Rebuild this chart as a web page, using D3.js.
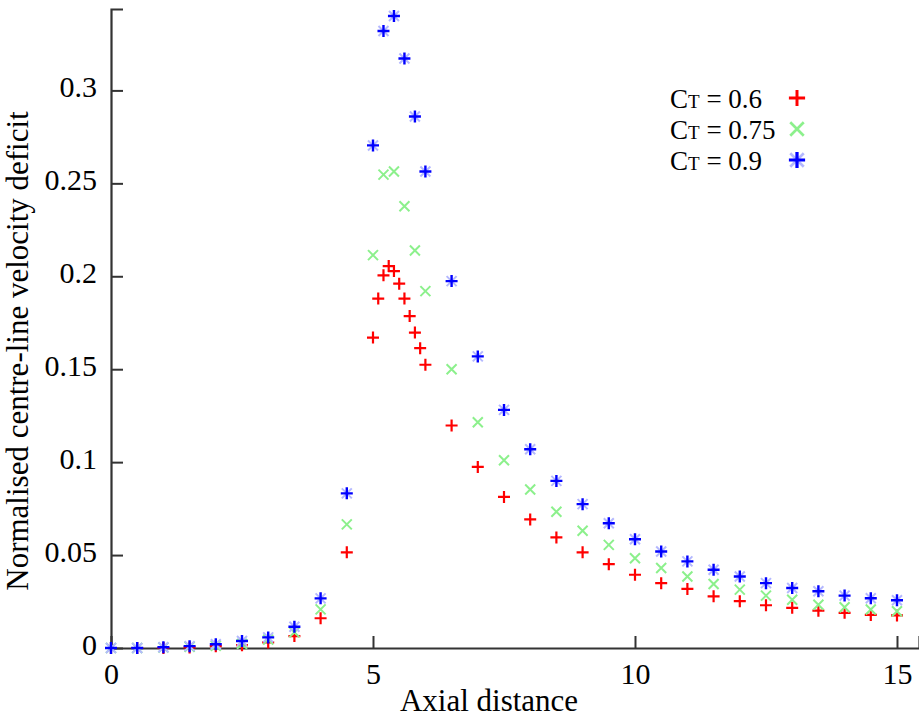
<!DOCTYPE html>
<html>
<head>
<meta charset="utf-8">
<script src="https://cdn.jsdelivr.net/npm/d3@7"></script>
<style>
  html, body { margin: 0; padding: 0; background: #fff; }
  svg { display: block; }
  svg text { font-family: "Liberation Serif", "Times New Roman", Times, "DejaVu Serif", serif !important; }
</style>
</head>
<body>
<div id="chart"></div>
<script>
// Осевые расстояния (общие для всех серий)
const xValues = [0, 0.5, 1, 1.5, 2, 2.5, 3, 3.5, 4, 4.5,
    5, 5.1, 5.2, 5.3, 5.4, 5.5, 5.6, 5.7, 5.8, 5.9, 6,
    6.5, 7, 7.5, 8, 8.5, 9, 9.5, 10, 10.5, 11, 11.5, 12, 12.5, 13, 13.5, 14, 14.5, 15];
const xValuesCoarse = [0, 0.5, 1, 1.5, 2, 2.5, 3, 3.5, 4, 4.5,
    5, 5.2, 5.4, 5.6, 5.8, 6,
    6.5, 7, 7.5, 8, 8.5, 9, 9.5, 10, 10.5, 11, 11.5, 12, 12.5, 13, 13.5, 14, 14.5, 15];

// CT = 0.6
const deficit06 = [0, 0, 0, 0.0003, 0.001, 0.0015, 0.003, 0.0064, 0.016, 0.0515,
    0.167, 0.188, 0.2005, 0.2055, 0.2028, 0.196, 0.188, 0.1786, 0.1697, 0.1613, 0.1524,
    0.1197, 0.0974, 0.0813, 0.0692, 0.0595, 0.0515, 0.0451, 0.0394, 0.0349, 0.0318,
    0.0278, 0.0252, 0.023, 0.0216, 0.0201, 0.0189, 0.0178, 0.0175];
// CT = 0.75
const deficit075 = [0, 0, 0.0003, 0.0006, 0.0012, 0.0022, 0.0045, 0.0085, 0.0208, 0.0665,
    0.2114, 0.2547, 0.2564, 0.2377, 0.2139, 0.192,
    0.150, 0.1215, 0.101, 0.0853, 0.0733, 0.0631, 0.0555, 0.0483, 0.043, 0.0385,
    0.0344, 0.0314, 0.0282, 0.026, 0.0233, 0.0219, 0.0207, 0.0198];
// CT = 0.9
const deficit09 = [0, 0, 0.0004, 0.001, 0.002, 0.0038, 0.0057, 0.0114, 0.0267, 0.0832,
    0.2704, 0.332, 0.340, 0.3172, 0.286, 0.2564,
    0.1974, 0.1569, 0.1281, 0.1069, 0.0899, 0.0774, 0.0671, 0.0585, 0.0519, 0.0466,
    0.0421, 0.0385, 0.0349, 0.0323, 0.0305, 0.0282, 0.0268, 0.0257];

const xTicks = [0, 5, 10, 15];
const yTicks = [0, 0.05, 0.1, 0.15, 0.2, 0.25, 0.3];
const legendValues = ['0.6', '0.75', '0.9'];

const width = 919, height = 718;
const margin = { top: 9, right: 0, bottom: 70, left: 111 };
const serif = '"Liberation Serif", "Times New Roman", Times, "DejaVu Serif", serif';

const svg = d3.select('#chart').append('svg')
    .attr('width', width)
    .attr('height', height)
    .attr('font-family', serif);

// Шкалы
const x = d3.scaleLinear().domain([0, 15.42]).range([margin.left, width - margin.right]);
const y = d3.scaleLinear().domain([0, 0.3438]).range([height - margin.bottom, margin.top]);

const axisColor = '#333';

// Ось X
const xAxis = svg.append('g')
    .attr('transform', `translate(0,${y(0)})`)
    .call(d3.axisBottom(x).tickValues(xTicks).tickSize(-12).tickPadding(15).tickFormat(d3.format('d')))
    .attr('font-family', serif);
xAxis.select('.domain').attr('stroke', axisColor).attr('stroke-width', 2.2);
xAxis.selectAll('.tick line').attr('stroke', axisColor).attr('stroke-width', 2)
    .filter(d => d === 0).remove();
xAxis.selectAll('.tick text').attr('font-size', 30).attr('fill', '#000')
    .style('font-family', serif);

// Ось Y
const yAxis = svg.append('g')
    .attr('transform', `translate(${x(0)},0)`)
    .call(d3.axisLeft(y).tickValues(yTicks).tickSize(-12).tickPadding(14).tickFormat(d => d === 0 ? '0' : String(d)))
    .attr('font-family', serif);
yAxis.select('.domain').attr('stroke', axisColor).attr('stroke-width', 2.2);
yAxis.selectAll('.tick line').attr('stroke', axisColor).attr('stroke-width', 2)
    .filter(d => d === 0).remove();
yAxis.selectAll('.tick text').attr('font-size', 30).attr('fill', '#000')
    .attr('dy', '0.2em')
    .style('font-family', serif);

// Подписи осей
svg.append('text')
    .attr('x', 489).attr('y', 711)
    .attr('text-anchor', 'middle')
    .attr('font-size', 31)
    .style('font-family', serif)
    .text('Axial distance');

svg.append('text')
    .attr('transform', `translate(28,${351}) rotate(-90)`)
    .attr('text-anchor', 'middle')
    .attr('font-size', 31)
    .style('font-family', serif)
    .text('Normalised centre-line velocity deficit');

// Маркеры в стиле gnuplot
function plus(g, cx, cy, r, color, sw) {
    g.append('path')
        .attr('d', `M${cx - r},${cy}H${cx + r}M${cx},${cy - r}V${cy + r}`)
        .attr('stroke', color).attr('stroke-width', sw).attr('fill', 'none');
}
function cross(g, cx, cy, r, color, sw) {
    g.append('path')
        .attr('d', `M${cx - r},${cy - r}L${cx + r},${cy + r}M${cx - r},${cy + r}L${cx + r},${cy - r}`)
        .attr('stroke', color).attr('stroke-width', sw).attr('fill', 'none');
}
const markers = [
    (g, cx, cy, s) => plus(g, cx, cy, 6 * s, '#ff0000', 2.2 * s),
    (g, cx, cy, s) => cross(g, cx, cy, 5 * s, '#8cf08c', 2 * s),
    (g, cx, cy, s) => { cross(g, cx, cy, 5 * s, '#b4b8ff', 2 * s); plus(g, cx, cy, 6 * s, '#0000ff', 2.4 * s); }
];

const series = [
    { xs: xValues, ys: deficit06 },
    { xs: xValuesCoarse, ys: deficit075 },
    { xs: xValuesCoarse, ys: deficit09 }
];

series.forEach((s, i) => {
    const g = svg.append('g').attr('class', 'series-' + i);
    s.ys.forEach((v, j) => markers[i](g, x(s.xs[j]), y(v), 1));
});

// Легенда
const legend = svg.append('g').attr('class', 'legend');
legendValues.forEach((v, i) => {
    const cy = 98 + i * 31;
    const t = legend.append('text')
        .attr('x', 670).attr('y', cy + 10)
        .attr('font-size', 27)
        .style('font-family', serif);
    t.append('tspan').text('C');
    t.append('tspan').attr('font-size', 19).text('T');
    t.append('tspan').text(' = ' + v);
    markers[i](legend, 797, cy, 1.35);
});
</script>
</body>
</html>
